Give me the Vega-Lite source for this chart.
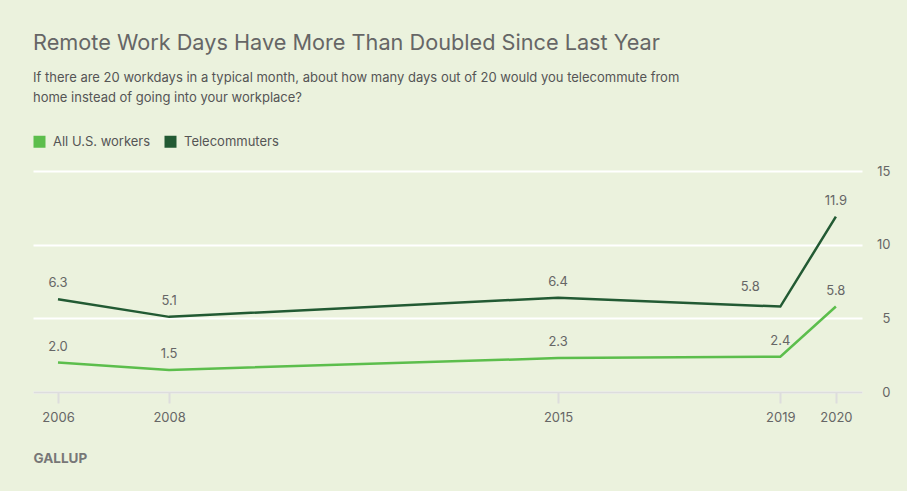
{
  "$schema": "https://vega.github.io/schema/vega-lite/v6.json",
  "width": 829,
  "height": 221,
  "autosize": {"type": "none"},
  "padding": {"left": 33, "top": 171, "right": 45, "bottom": 99},
  "background": "#EBF2DD",
  "title": {
    "text": "Remote Work Days Have More Than Doubled Since Last Year",
    "subtitle": ["If there are 20 workdays in a typical month, about how many days out of 20 would you telecommute from", "home instead of going into your workplace?"],
    "anchor": "start",
    "frame": "group",
    "offset": 30,
    "font": "Inter",
    "fontSize": 21.7,
    "fontWeight": "normal",
    "color": "#666666",
    "subtitleFont": "Inter",
    "subtitleFontSize": 13,
    "subtitleColor": "#555555",
    "subtitleLineHeight": 20,
    "subtitlePadding": 17
  },
  "config": {
    "view": {"stroke": null},
    "font": "Inter"
  },
  "data": {
    "values": [
      {"year": 2006, "series": "All U.S. workers", "value": 2.0},
      {"year": 2008, "series": "All U.S. workers", "value": 1.5},
      {"year": 2015, "series": "All U.S. workers", "value": 2.3},
      {"year": 2019, "series": "All U.S. workers", "value": 2.4},
      {"year": 2020, "series": "All U.S. workers", "value": 5.8},
      {"year": 2006, "series": "Telecommuters", "value": 6.3},
      {"year": 2008, "series": "Telecommuters", "value": 5.1},
      {"year": 2015, "series": "Telecommuters", "value": 6.4},
      {"year": 2019, "series": "Telecommuters", "value": 5.8},
      {"year": 2020, "series": "Telecommuters", "value": 11.9}
    ]
  },
  "encoding": {
    "x": {
      "field": "year",
      "type": "quantitative",
      "scale": {"domain": [2005.55, 2020.47], "nice": false, "zero": false},
      "axis": {
        "values": [2006, 2008, 2015, 2019, 2020],
        "format": "d",
        "grid": false,
        "zindex": 1,
        "domainColor": "#DDDDDD",
        "domainWidth": 2,
        "tickColor": "#DDDDDD",
        "tickWidth": 2,
        "tickSize": 11,
        "labelColor": "#666666",
        "labelFontSize": 13,
        "labelPadding": 8,
        "labelFlush": false,
        "title": "GALLUP",
        "titleX": 0,
        "titleY": 66,
        "titleAlign": "left",
        "titleBaseline": "middle",
        "titleFontSize": 13.5,
        "titleFontWeight": "bold",
        "titleColor": "#777777"
      }
    },
    "y": {
      "field": "value",
      "type": "quantitative",
      "scale": {"domain": [0, 15], "nice": false},
      "axis": {
        "orient": "right",
        "values": [0, 5, 10, 15],
        "grid": true,
        "gridColor": "#FFFFFF",
        "gridWidth": 2,
        "domain": false,
        "ticks": false,
        "zindex": 0,
        "labelAlign": "right",
        "labelPadding": 28,
        "labelColor": "#666666",
        "labelFontSize": 13,
        "title": null
      }
    },
    "color": {
      "field": "series",
      "type": "nominal",
      "scale": {"domain": ["All U.S. workers", "Telecommuters"], "range": ["#5CBE4C", "#225A33"]},
      "legend": {
        "title": null,
        "orient": "none",
        "legendX": 0,
        "legendY": -36,
        "direction": "horizontal",
        "symbolType": "square",
        "symbolSize": 144,
        "symbolStrokeWidth": 0,
        "symbolOpacity": 1,
        "labelFontSize": 13,
        "labelColor": "#555555",
        "labelOffset": 7,
        "columnPadding": 13,
        "encode": {
          "symbols": {
            "update": {
              "fill": {"scale": "color", "field": "value"},
              "fillOpacity": {"value": 1},
              "strokeWidth": {"value": 0}
            }
          }
        }
      }
    }
  },
  "layer": [
    {
      "mark": {"type": "line", "strokeWidth": 2.5}
    },
    {
      "transform": [{"filter": "!(datum.year == 2019 && datum.series == 'Telecommuters')"}],
      "mark": {"type": "text", "dy": -16, "fontSize": 13},
      "encoding": {
        "text": {"field": "value", "type": "quantitative", "format": ".1f"},
        "color": {"value": "#666666"}
      }
    },
    {
      "transform": [{"filter": "datum.year == 2019 && datum.series == 'Telecommuters'"}],
      "mark": {"type": "text", "dx": -30, "dy": -20, "fontSize": 13},
      "encoding": {
        "text": {"field": "value", "type": "quantitative", "format": ".1f"},
        "color": {"value": "#666666"}
      }
    }
  ]
}
